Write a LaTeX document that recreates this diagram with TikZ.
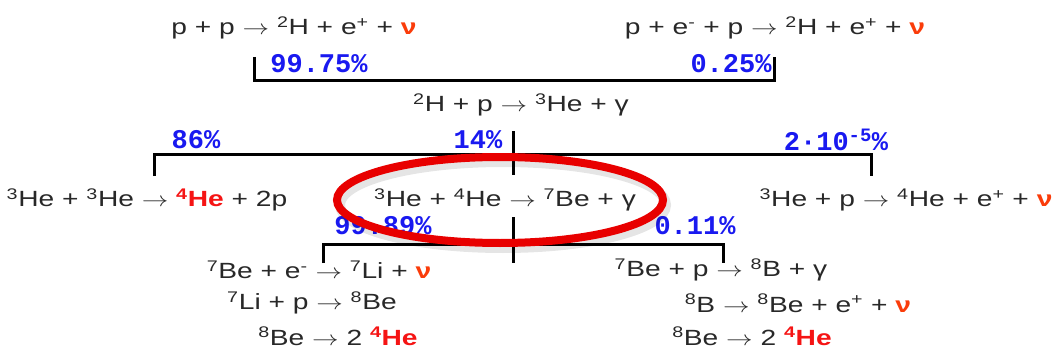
\documentclass[tikz,border=0pt]{standalone}
\usepackage{fontspec}
\setmainfont{Liberation Sans}
\newfontfamily\pctfont{Liberation Mono}
\usepackage{xcolor}
\usetikzlibrary{calc}
\definecolor{textGray}{RGB}{40,40,40}
\definecolor{pctBlue}{RGB}{25,25,240}
\definecolor{nuRed}{RGB}{250,60,10}
\definecolor{heRed}{RGB}{245,20,20}
\definecolor{ringRed}{RGB}{232,0,0}
\newcommand{\isot}[2]{\textsuperscript{#1}#2}
\newcommand{\nutr}{\textcolor{nuRed}{\textbf{ν}}}
\newcommand{\alphaHe}{\textcolor{heRed}{\textbf{\textsuperscript{4}He}}}
\newcommand{\yields}{$\rightarrow$}
\newcommand{\wide}[1]{\scalebox{1.28}[1]{#1}}
\begin{document}
\begin{tikzpicture}[
    x=1pt, y=-1pt,
    % reaction text
    reac/.style={font=\fontsize{22}{27}\selectfont, text=textGray,
                 inner sep=0pt},
    % branching ratio
    pct/.style={font=\fontsize{27}{30}\selectfont\pctfont\bfseries,
                text=pctBlue, inner sep=0pt},
    branch/.style={line width=3pt, draw=black},
    ring/.style={line width=8pt, draw=ringRed}
]
\useasboundingbox (0,0) rectangle (1058,361);
% ── first step ────────────────────────────────────────────────
\node[reac] (pp)   at (294,28)  {\wide{p + p \yields{} \isot{2}{H} + e\textsuperscript{+} + \nutr}};
\node[reac] (pep)  at (775,28)  {\wide{p + e\textsuperscript{-} + p \yields{} \isot{2}{H} + e\textsuperscript{+} + \nutr}};
\node[reac] (dp)   at (521,105) {\wide{\isot{2}{H} + p \yields{} \isot{3}{He} + γ}};
% ── second step ───────────────────────────────────────────────
\node[reac] (hehe) at (147,200) {\wide{\isot{3}{He} + \isot{3}{He} \yields{} \alphaHe{} + 2p}};
\node[reac] (hebe) at (505,200) {\wide{\isot{3}{He} + \isot{4}{He} \yields{} \isot{7}{Be} + γ}};
\node[reac] (hep)  at (906,200) {\wide{\isot{3}{He} + p \yields{} \isot{4}{He} + e\textsuperscript{+} + \nutr}};
% ── ppII ──────────────────────────────────────────────────────
\node[reac] (bee)  at (319,270) {\wide{\isot{7}{Be} + e\textsuperscript{-} \yields{} \isot{7}{Li} + \nutr}};
\node[reac] (lip)  at (312,303) {\wide{\isot{7}{Li} + p \yields{} \isot{8}{Be}}};
\node[reac] (beA)  at (338,336) {\wide{\isot{8}{Be} \yields{} 2 \alphaHe}};
% ── ppIII ─────────────────────────────────────────────────────
\node[reac] (bep)  at (721,270) {\wide{\isot{7}{Be} + p \yields{} \isot{8}{B} + γ}};
\node[reac] (bdec) at (798,303) {\wide{\isot{8}{B} \yields{} \isot{8}{Be} + e\textsuperscript{+} + \nutr}};
\node[reac] (beB)  at (752,336) {\wide{\isot{8}{Be} \yields{} 2 \alphaHe}};
% ── branching ratios ──────────────────────────────────────────
\node[pct] (r1) at (319,64)  {99.75\%};
\node[pct] (r2) at (731,64)  {0.25\%};
\node[pct] (r3) at (196,140) {86\%};
\node[pct] (r4) at (478,140) {14\%};
\node[pct] (r5) at (836,140) {2·10\textsuperscript{-5}\%};
\node[pct] (r6) at (383,226) {99.89\%};
\node[pct] (r7) at (695,226) {0.11\%};
% ── brackets ──────────────────────────────────────────────────
\coordinate (b1l) at (254,57);
\coordinate (b1r) at (774,57);
\draw[branch] (b1l) -- ++(0,24) -| (b1r);
\coordinate (b2top) at (513,131);
\coordinate (b2bot) at (513,175);
\coordinate (b2l) at (154,176);
\coordinate (b2r) at (871,176);
\draw[branch] (b2top) -- (b2bot);
\draw[branch] (b2l) -- ++(0,-22) -| (b2r);
\coordinate (b3top) at (513,217);
\coordinate (b3l) at (323,263);
\coordinate (b3r) at (723,263);
\draw[branch] (b3top) -- (b3l -| b3top);
\draw[branch] (b3l) -- ++(0,-19) -| (b3r);
% ── highlight ring ────────────────────────────────────────────
\draw[ring, draw=black, opacity=0.1, line width=10pt]
    ($(hebe)+(-2,5)$) ellipse [x radius=163, y radius=43];
\draw[ring] ($(hebe)+(-5,0)$) ellipse [x radius=163, y radius=43];
\end{tikzpicture}
\end{document}
